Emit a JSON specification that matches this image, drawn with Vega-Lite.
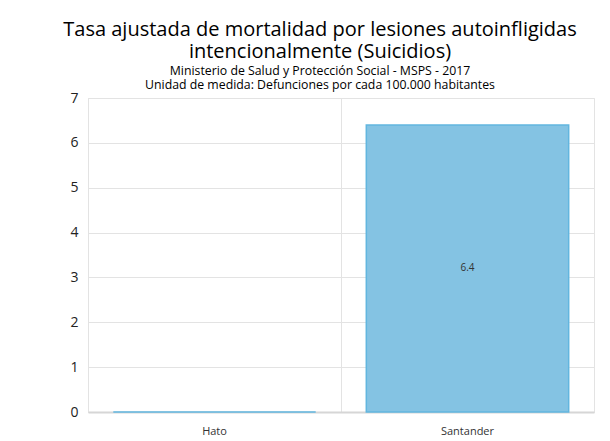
{
  "$schema": "https://vega.github.io/schema/vega-lite/v6.json",
  "width": 506,
  "height": 314,
  "autosize": "none",
  "padding": {"left": 88, "top": 98, "right": 16, "bottom": 29},
  "background": "white",
  "config": {"view": {"stroke": "#e3e3e3"}},
  "title": {
    "text": ["Tasa ajustada de mortalidad por lesiones autoinfligidas", "intencionalmente (Suicidios)"],
    "subtitle": ["Ministerio de Salud y Protección Social - MSPS - 2017", "Unidad de medida: Defunciones por cada 100.000 habitantes"],
    "anchor": "middle",
    "dx": -21,
    "font": "Open Sans",
    "fontSize": 20,
    "fontWeight": "normal",
    "color": "#000000",
    "lineHeight": 22,
    "subtitleFont": "Open Sans",
    "subtitleFontSize": 12.3,
    "subtitleLineHeight": 13.5,
    "subtitleColor": "#000000",
    "subtitlePadding": 3,
    "offset": 0
  },
  "data": {"values": [
    {"lugar": "Hato", "valor": 0},
    {"lugar": "Santander", "valor": 6.4}
  ]},
  "encoding": {
    "x": {
      "field": "lugar", "type": "nominal", "sort": null,
      "scale": {"paddingInner": 0, "paddingOuter": 0},
      "axis": {"title": null, "labelAngle": 0, "grid": true, "bandPosition": 0, "ticks": false,
               "domainColor": "#d6d6d6", "domainWidth": 2, "gridColor": "#e3e3e3",
               "labelFont": "Open Sans", "labelFontSize": 11, "labelPadding": 13, "labelColor": "#333333"}
    }
  },
  "layer": [
    {
      "mark": {"type": "bar", "width": {"band": 0.8}, "fill": "#84c3e3", "stroke": "#62b6df", "strokeWidth": 1.5},
      "encoding": {
        "y": {"field": "valor", "type": "quantitative", "scale": {"domain": [0, 7]},
              "axis": {"title": null, "tickCount": 7, "domain": false, "ticks": false, "labelPadding": 10,
                       "labelFont": "Open Sans", "labelFontSize": 14, "labelColor": "#222222", "gridColor": "#e3e3e3"}}
      }
    },
    {
      "transform": [{"filter": "datum.valor > 0"}, {"calculate": "datum.valor / 2", "as": "mitad"}],
      "mark": {"type": "text", "font": "Open Sans", "fontSize": 10, "color": "#333333", "baseline": "middle"},
      "encoding": {
        "y": {"field": "mitad", "type": "quantitative"},
        "text": {"field": "valor", "type": "quantitative", "format": ".1f"}
      }
    }
  ]
}
